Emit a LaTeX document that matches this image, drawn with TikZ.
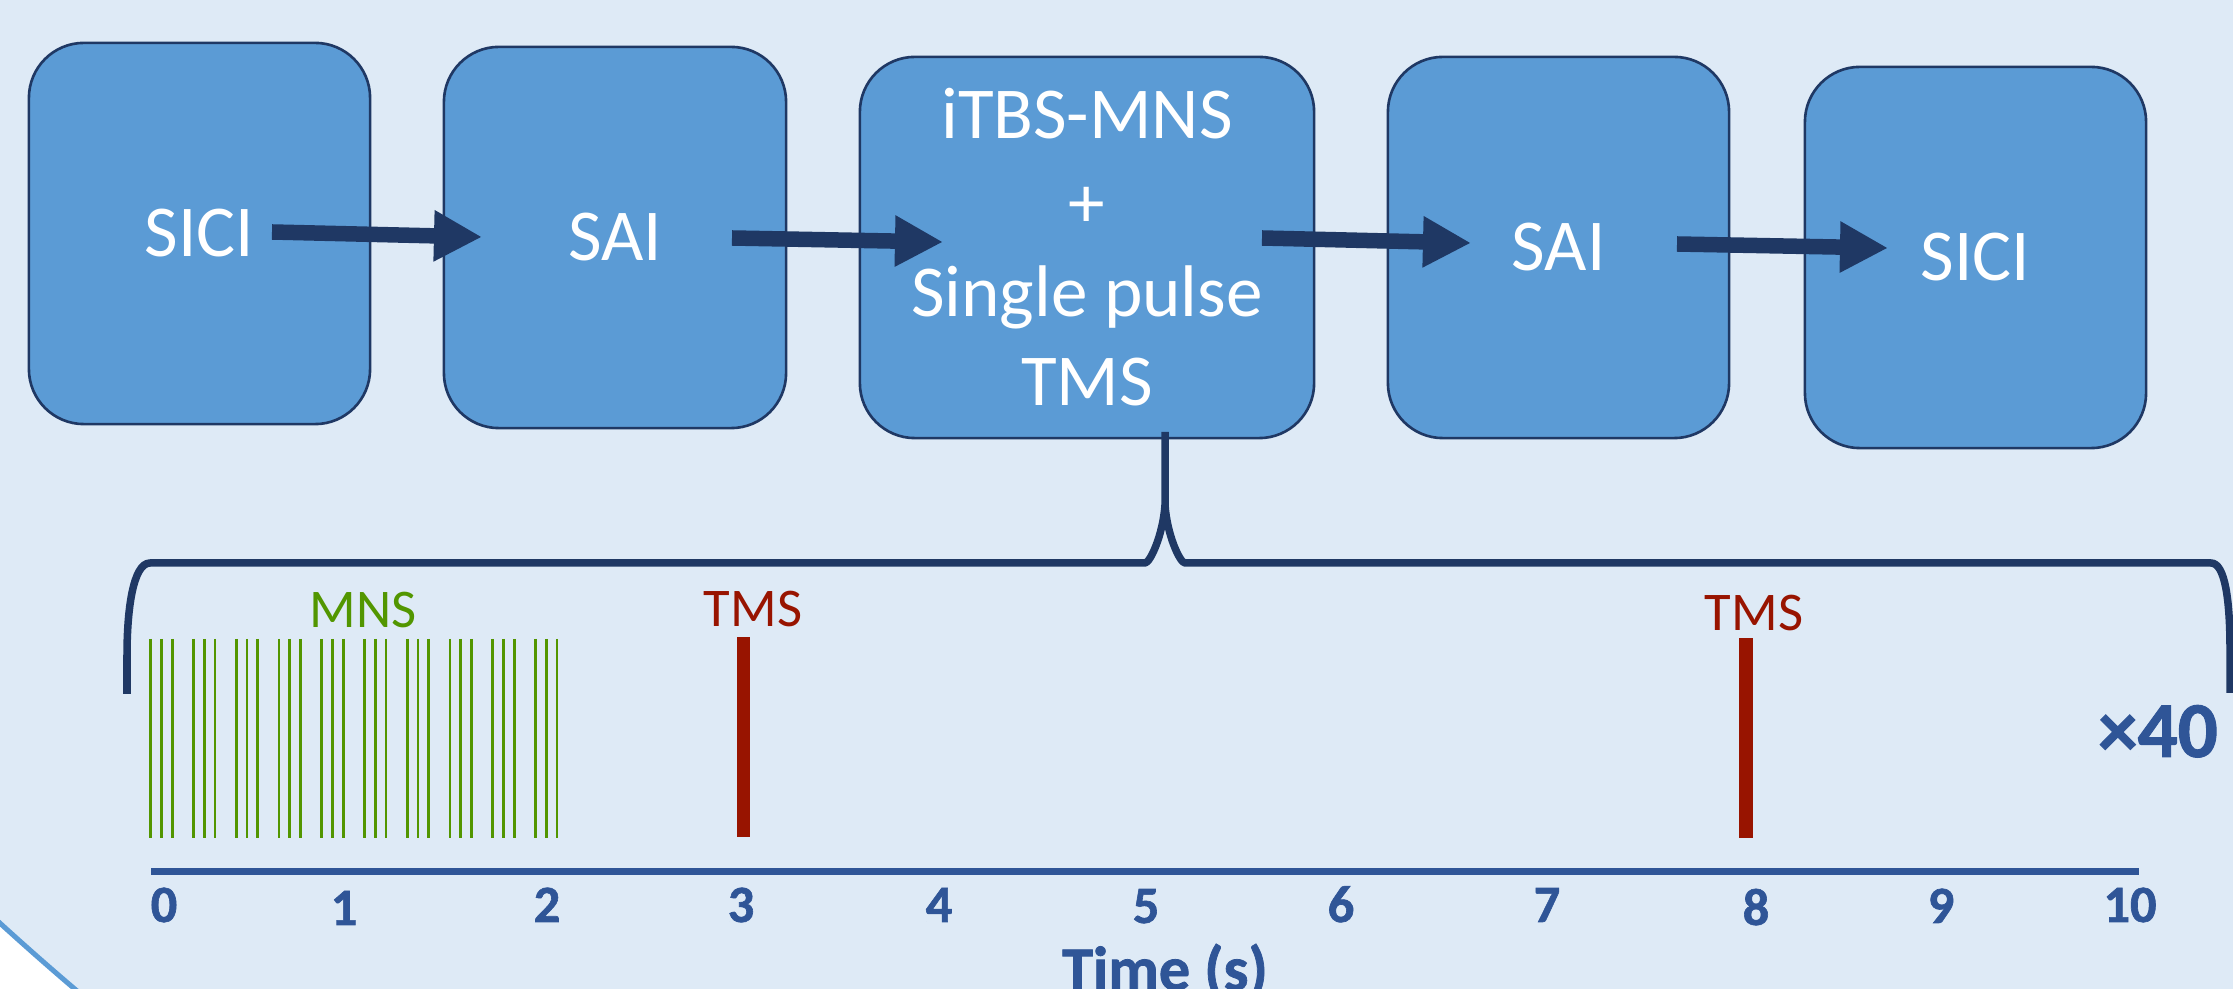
\documentclass[tikz,border=0pt]{standalone}
\usepackage{fontspec}
\setmainfont{Carlito}
\newfontfamily\heavyfont{Carlito}[BoldFeatures={FakeBold=1.2}]
\usetikzlibrary{arrows.meta}
\definecolor{bglight}{HTML}{DEEAF6}
\definecolor{bgedge}{HTML}{5B9BD5}
\definecolor{boxfill}{HTML}{5B9BD5}
\definecolor{navy}{HTML}{1F3864}
\definecolor{axisblue}{HTML}{2F5597}
\definecolor{mnsgreen}{RGB}{82,150,0}
\definecolor{tmsred}{RGB}{152,20,0}
\begin{document}
\begin{tikzpicture}[x=0.01cm,y=-0.01cm,
  stage/.style={draw=navy, line width=0.75pt, fill=boxfill, rounded corners=0.55cm,
    text=white, inner sep=0pt, align=center, minimum height=3.81cm,
    font=\fontsize{20.8pt}{25.3pt}\selectfont},
  flow/.style={navy, line width=0.155cm, -{Triangle[length=0.48cm,width=0.48cm]}},
  spanline/.style={navy, line width=0.075cm},
  pulse/.style={mnsgreen, line width=0.028cm},
  tmsbar/.style={fill=tmsred},
  pulselabel/.style={anchor=base, inner sep=0pt, font=\fontsize{15.5pt}{18pt}\selectfont},
  ticklabel/.style={anchor=base, inner sep=0pt, text=axisblue, font=\fontsize{14.9pt}{18pt}\selectfont\heavyfont\bfseries},
]
\useasboundingbox (0,0) rectangle (2233,989);
\clip (0,0) rectangle (2233,989);
% background
\fill[white] (0,0) rectangle (2233,989);
\filldraw[fill=bglight, draw=bgedge, line width=0.05cm] (2018,-1295) circle[radius=29.97cm];

% stages
\node[stage, minimum width=3.41cm] (sici1) at (199.5,233.5) {SICI};
\node[stage, minimum width=3.42cm] (sai1) at (615,237.5) {SAI};
\node[stage, minimum width=4.54cm] (itbs) at (1087,247.5) {iTBS-MNS\\+\\Single pulse\\TMS};
\node[stage, minimum width=3.41cm] (sai2) at (1558.5,247.5) {SAI};
\node[stage, minimum width=3.41cm] (sici2) at (1975.5,257.5) {SICI};

% arrow ends
\coordinate (a1s) at (272,232);  \coordinate (a1e) at (482,237);
\coordinate (a2s) at (732,238);  \coordinate (a2e) at (943,242);
\coordinate (a3s) at (1262,238); \coordinate (a3e) at (1471,243);
\coordinate (a4s) at (1677,244); \coordinate (a4e) at (1888,248);
\draw[flow] (a1s) -- (a1e);
\draw[flow] (a2s) -- (a2e);
\draw[flow] (a3s) -- (a3e);
\draw[flow] (a4s) -- (a4e);

% bracket
\coordinate (bl) at (127,694);
\coordinate (cusp) at (1165,505);
\coordinate (ctop) at (1165,432);
\coordinate (br) at (2230,693);
\draw[spanline, line join=round] (bl) -- (127,655) .. controls (127,610) and (133,563) .. (150,563)
  -- (1145,563) .. controls (1150,563) and (1163,535) .. (cusp) -- (ctop);
\draw[spanline, line join=round] (cusp) .. controls (1167,535) and (1180,563) .. (1185,563)
  -- (2211,563) .. controls (2225,563) and (2230,600) .. (2230,650) -- (br);

% MNS pulses
\foreach \g in {0,...,9}{
  \foreach \k in {0,1,2}{
    \draw[pulse] ({150.7+\g*42.75+\k*10.8},639) -- ({150.7+\g*42.75+\k*10.8},838);
  }
}
\node[pulselabel, text=mnsgreen] (mnslab) at (363,628) {MNS};

% TMS pulses
\fill[tmsbar] (737,637) rectangle (750,837);
\fill[tmsbar] (1739,638) rectangle (1753,838);
\node[pulselabel, text=tmsred] (tms1) at (753,627) {TMS};
\node[pulselabel, text=tmsred] (tms2) at (1754,631) {TMS};

% repetitions
\node[anchor=base, inner sep=0pt, text=axisblue, font=\fontsize{22.5pt}{26pt}\selectfont\heavyfont\bfseries] (rep) at (2158,757) {×40};

% time axis
\coordinate (ax0) at (151,872);
\coordinate (ax1) at (2139,872);
\draw[axisblue, line width=0.07cm] (ax0) -- (ax1);
\node[ticklabel] (t0) at (164,922) {0};
\node[ticklabel] (t1) at (344,925) {1};
\node[ticklabel] (t2) at (547,922) {2};
\node[ticklabel] (t3) at (741,922) {3};
\node[ticklabel] (t4) at (939,922) {4};
\node[ticklabel] (t5) at (1146,923) {5};
\node[ticklabel] (t6) at (1341,922) {6};
\node[ticklabel] (t7) at (1547,922) {7};
\node[ticklabel] (t8) at (1756,925) {8};
\node[ticklabel] (t9) at (1941,923) {9};
\node[ticklabel] (t10) at (2130,922) {10};
\node[anchor=base, inner sep=0pt, text=axisblue, font=\fontsize{17.7pt}{20pt}\selectfont\heavyfont\bfseries] (tlab) at (1165,990) {Time (s)};
\end{tikzpicture}
\end{document}
